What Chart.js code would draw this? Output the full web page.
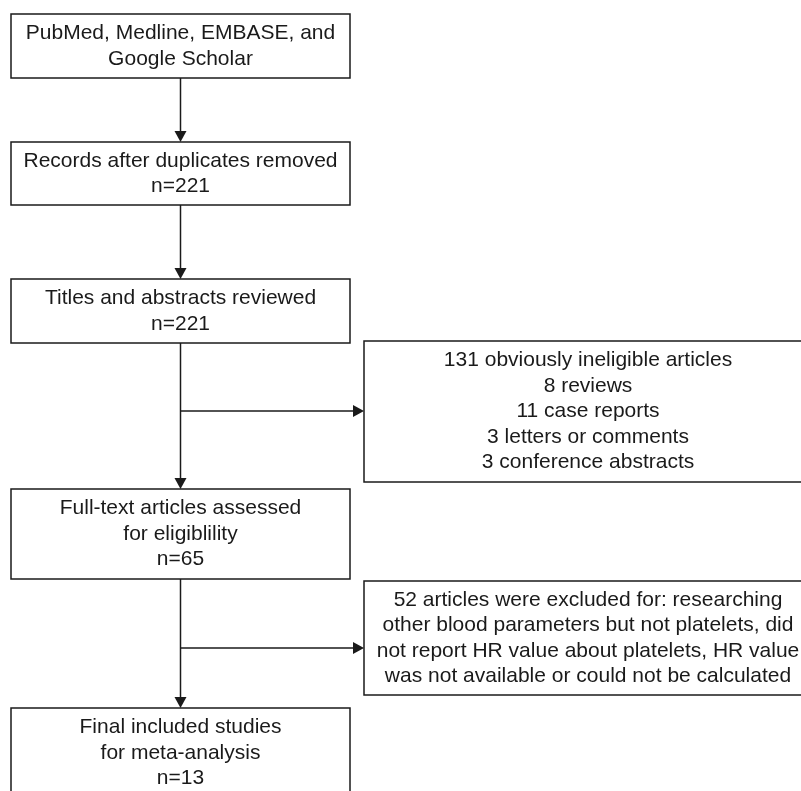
<!DOCTYPE html>
<html><head><meta charset="utf-8">
<script src="https://cdn.jsdelivr.net/npm/chart.js@4.4.1/dist/chart.umd.min.js"></script>
<style>html,body{margin:0;padding:0;background:#fff}#wrap{width:801px;height:791px;position:relative}</style>
</head><body><div id="wrap"><canvas id="c"></canvas></div>
<script>
// ---- Content (data) ----
const stageLabels = [
  ["PubMed, Medline, EMBASE, and", "Google Scholar"],
  ["Records after duplicates removed"],
  ["Titles and abstracts reviewed"],
  ["Full-text articles assessed", "for eligiblility"],
  ["Final included studies", "for meta-analysis"]
];
const stageCounts = [null, 221, 221, 65, 13];
const exclusionLabels = [
  ["131 obviously ineligible articles", "8 reviews", "11 case reports", "3 letters or comments", "3 conference abstracts"],
  ["52 articles were excluded for: researching", "other blood parameters but not platelets, did", "not report HR value about platelets, HR value", "was not available or could not be calculated"]
];
const exclusionAfterStage = [2, 3]; // exclusion box branches off below these stages

// ---- Layout (axis units) ----
const mainCol = { x0: 11, x1: 350 };
const mainRows = [[14, 78], [142, 205], [279, 343], [489, 579], [708, 798]];
const sideCol = { x0: 364, x1: 812 };
const sideRows = [[341, 482], [581, 695]];
const branchAt = [411, 648];
const style = { font: '21px "Liberation Sans", Arial, sans-serif', color: '#1a1a1a', line: 1.5, lineGap: 25.5, head: 11, headHalf: 6 };

function stageText(i) {
  const lines = stageLabels[i].slice();
  if (stageCounts[i] !== null) lines.push('n=' + stageCounts[i]);
  return lines;
}

const mainPoints = mainRows.map((r, i) => ({ x: (mainCol.x0 + mainCol.x1) / 2, y: (r[0] + r[1]) / 2, i }));
const sidePoints = sideRows.map((r, i) => ({ x: (sideCol.x0 + sideCol.x1) / 2, y: (r[0] + r[1]) / 2, i }));

const flowPlugin = {
  id: 'flow',
  afterDraw(chart) {
    const ctx = chart.ctx, X = chart.scales.x, Y = chart.scales.y;
    const px = v => X.getPixelForValue(v), py = v => Y.getPixelForValue(v);
    ctx.save();
    ctx.strokeStyle = style.color; ctx.fillStyle = style.color; ctx.lineWidth = style.line;
    ctx.font = style.font; ctx.textAlign = 'center'; ctx.textBaseline = 'middle';
    const box = (x0, x1, y0, y1) => { ctx.strokeRect(px(x0), py(y0), px(x1) - px(x0), py(y1) - py(y0)); };
    const text = (lines, cx, cy) => {
      const n = lines.length;
      lines.forEach((t, k) => ctx.fillText(t, px(cx), py(cy) + (k - (n - 1) / 2) * style.lineGap));
    };
    const arrowDown = (x, y0, y1) => {
      ctx.beginPath(); ctx.moveTo(px(x), py(y0)); ctx.lineTo(px(x), py(y1) - style.head); ctx.stroke();
      ctx.beginPath(); ctx.moveTo(px(x), py(y1)); ctx.lineTo(px(x) - style.headHalf, py(y1) - style.head);
      ctx.lineTo(px(x) + style.headHalf, py(y1) - style.head); ctx.closePath(); ctx.fill();
    };
    const arrowRight = (x0, x1, y) => {
      ctx.beginPath(); ctx.moveTo(px(x0), py(y)); ctx.lineTo(px(x1) - style.head, py(y)); ctx.stroke();
      ctx.beginPath(); ctx.moveTo(px(x1), py(y)); ctx.lineTo(px(x1) - style.head, py(y) - style.headHalf);
      ctx.lineTo(px(x1) - style.head, py(y) + style.headHalf); ctx.closePath(); ctx.fill();
    };
    const meta0 = chart.getDatasetMeta(0).data, meta1 = chart.getDatasetMeta(1).data;
    mainRows.forEach((r, i) => {
      box(mainCol.x0, mainCol.x1, r[0], r[1]);
      text(stageText(i), mainPoints[i].x, mainPoints[i].y);
      if (i < mainRows.length - 1) arrowDown(mainPoints[i].x, r[1], mainRows[i + 1][0]);
    });
    sideRows.forEach((r, j) => {
      box(sideCol.x0, sideCol.x1, r[0], r[1]);
      text(exclusionLabels[j], sidePoints[j].x, sidePoints[j].y);
      arrowRight(mainPoints[exclusionAfterStage[j]].x, sideCol.x0, branchAt[j]);
    });
    ctx.restore();
  }
};

new Chart(document.getElementById('c'), {
  type: 'scatter',
  data: { datasets: [
    { data: mainPoints, pointRadius: 0, pointHoverRadius: 0 },
    { data: sidePoints, pointRadius: 0, pointHoverRadius: 0 }
  ] },
  options: {
    responsive: true, maintainAspectRatio: false, animation: false,
    layout: { padding: 0 },
    events: [],
    plugins: { legend: { display: false }, tooltip: { enabled: false } },
    scales: {
      x: { type: 'linear', min: 0, max: 801, display: false },
      y: { type: 'linear', min: 0, max: 791, reverse: true, display: false }
    }
  },
  plugins: [flowPlugin]
});
</script></body></html>
